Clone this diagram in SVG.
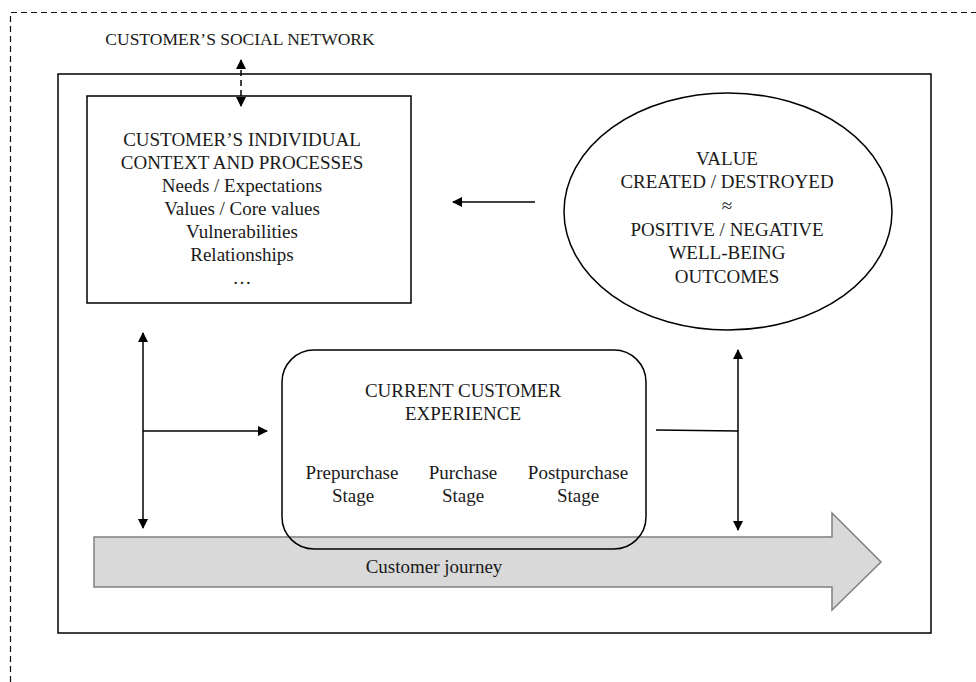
<svg xmlns="http://www.w3.org/2000/svg" width="976" height="682" viewBox="0 0 976 682">
  <style>
    text { font-family: "Liberation Serif", "Times New Roman", serif; font-size: 19px; fill: #1a1a1a; text-anchor: middle; }
    .small { font-size: 17.5px; }
    .frame { fill: none; stroke: #000; stroke-width: 1.5; }
    .conn { fill: none; stroke: #000; stroke-width: 1.5; }
    .dash { stroke-dasharray: 6 4; }
  </style>
  <defs>
    <marker id="head" viewBox="0 0 10 10" refX="9" refY="5" markerWidth="10" markerHeight="10" markerUnits="userSpaceOnUse" orient="auto-start-reverse">
      <path d="M0,0 L10,5 L0,10 z" fill="#000"/>
    </marker>
  </defs>

  <rect width="976" height="682" fill="#fff"/>

  <!-- dashed outer boundary: social context -->
  <g id="social-network">
    <path d="M10.5,682 L10.5,12.5 L976,12.5" fill="none" stroke="#111" stroke-width="1.2" stroke-dasharray="6 4"/>
    <text class="small" x="240" y="45">CUSTOMER&#8217;S SOCIAL NETWORK</text>
  </g>

  <!-- solid frame around the individual customer -->
  <g id="customer-frame">
    <rect class="frame" x="58" y="74" width="873" height="559"/>
  </g>

  <!-- customer journey arrow -->
  <g id="customer-journey">
    <path d="M94,537 L832,537 L832,513 L881,562 L832,610 L832,587 L94,587 Z" fill="#d9d9d9" stroke="#7f7f7f" stroke-width="1.5"/>
    <text x="434" y="573">Customer journey</text>
  </g>

  <g id="individual-context">
    <rect class="frame" x="87" y="96" width="324" height="207" fill="#fff"/>
    <text x="242" y="146">CUSTOMER&#8217;S  INDIVIDUAL</text>
    <text x="242" y="169">CONTEXT AND PROCESSES</text>
    <text x="242" y="192">Needs / Expectations</text>
    <text x="242" y="215">Values / Core values</text>
    <text x="242" y="238">Vulnerabilities</text>
    <text x="242" y="261">Relationships</text>
    <text x="242" y="284">&#8230;</text>
  </g>

  <g id="value-outcomes">
    <ellipse class="frame" cx="728" cy="211.5" rx="164" ry="118.5" fill="#fff"/>
    <text x="727" y="165">VALUE</text>
    <text x="727" y="188">CREATED  / DESTROYED</text>
    <text x="727" y="212">&#8776;</text>
    <text x="727" y="236">POSITIVE / NEGATIVE</text>
    <text x="727" y="259">WELL-BEING</text>
    <text x="727" y="283">OUTCOMES</text>
  </g>

  <g id="current-experience">
    <rect class="frame" x="282" y="350" width="364" height="199" rx="32" ry="32" fill="#fff"/>
    <text x="463" y="397">CURRENT  CUSTOMER</text>
    <text x="463" y="420">EXPERIENCE</text>
    <text x="352" y="479">Prepurchase</text>
    <text x="353" y="502">Stage</text>
    <text x="463" y="479">Purchase</text>
    <text x="463" y="502">Stage</text>
    <text x="578" y="479">Postpurchase</text>
    <text x="578" y="502">Stage</text>
  </g>

  <g id="connectors">
    <!-- social network to individual context -->
    <line class="conn dash" x1="241" y1="60" x2="241" y2="106" marker-start="url(#head)" marker-end="url(#head)"/>
    <!-- outcomes feed back into the individual context -->
    <line class="conn" x1="535" y1="202" x2="453" y2="202" marker-end="url(#head)"/>
    <!-- context to journey and experience -->
    <line class="conn" x1="143" y1="333" x2="143" y2="528" marker-start="url(#head)" marker-end="url(#head)"/>
    <line class="conn" x1="143" y1="431" x2="267" y2="431" marker-end="url(#head)"/>
    <!-- experience to journey and outcomes -->
    <line class="conn" x1="738" y1="350" x2="738" y2="530" marker-start="url(#head)" marker-end="url(#head)"/>
    <line class="conn" x1="656" y1="430" x2="738" y2="431"/>
  </g>
</svg>
